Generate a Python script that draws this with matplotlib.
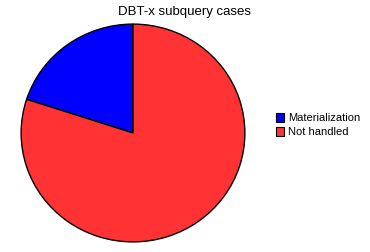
import matplotlib
matplotlib.use("Agg")
import matplotlib.pyplot as plt
from matplotlib.patches import Patch

plt.rcParams['font.family'] = ['Liberation Sans', 'DejaVu Sans']

labels = ['Materialization', 'Not handled']
values = [20, 80]
colors = ['#0000FF', '#FF3333']

fig = plt.figure(figsize=(3.7, 2.52), dpi=100)
ax = fig.add_axes([20 / 370, 9 / 252, 226 / 370, 220 / 252])
ax.pie(values, colors=colors, startangle=90, counterclock=True,
       wedgeprops=dict(edgecolor='black', linewidth=1.0))
ax.set_aspect('auto')
ax.set_xlim(-1.01, 1.01)
ax.set_ylim(-1.01, 1.01)

fig.text(185 / 370, 1 - 12 / 252, 'DBT-x subquery cases', ha='center',
         va='center', fontsize=9.5)

handles = [Patch(facecolor=c, edgecolor='black', linewidth=0.8) for c in colors]
fig.legend(handles, labels, loc='center left', bbox_to_anchor=(270 / 370, 1 - 125 / 252),
           frameon=False, fontsize=8, handlelength=0.8, handleheight=0.9,
           handletextpad=0.3, labelspacing=0.3, borderpad=0)

fig.savefig('out.png', dpi=100)
